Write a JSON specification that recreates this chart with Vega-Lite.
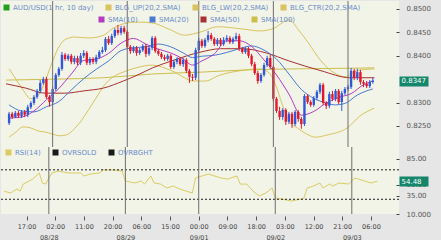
{
  "$schema": "https://vega.github.io/schema/vega-lite/v6.json",
  "padding": {"left": 0, "top": 0, "right": 11, "bottom": 0},
  "background": "#e6e6e6",
  "spacing": 0,
  "bounds": "flush",
  "resolve": {"scale": {"color": "independent"}, "legend": {"color": "independent"}},
  "config": {
    "font": "DejaVu Sans",
    "view": {"stroke": null, "fill": "#f2f4e8"},
    "legend": {"orient": "none", "direction": "horizontal", "title": null, "symbolType": "square", "symbolSize": 9, "symbolStrokeWidth": 3, "labelFont": "DejaVu Sans", "labelFontSize": 7, "labelColor": "#6a8cc8", "columnPadding": 7, "labelOffset": 3, "padding": 0, "offset": 0}
  },
  "datasets": {
    "candles": [
      {"t":-14,"o":0.8256,"h":0.8280,"l":0.8252,"c":0.8276},{"t":-13,"o":0.8276,"h":0.8280,"l":0.8265,"c":0.8269},
      {"t":-12,"o":0.8269,"h":0.8282,"l":0.8267,"c":0.8278},{"t":-11,"o":0.8278,"h":0.8282,"l":0.8267,"c":0.8271},
      {"t":-10,"o":0.8271,"h":0.8284,"l":0.8267,"c":0.8280},{"t":-9,"o":0.8280,"h":0.8284,"l":0.8269,"c":0.8274},
      {"t":-8,"o":0.8274,"h":0.8295,"l":0.8269,"c":0.8290},{"t":-7,"o":0.8290,"h":0.8303,"l":0.8286,"c":0.8299},
      {"t":-6,"o":0.8299,"h":0.8316,"l":0.8295,"c":0.8312},{"t":-5,"o":0.8312,"h":0.8329,"l":0.8308,"c":0.8325},
      {"t":-4,"o":0.8325,"h":0.8348,"l":0.8320,"c":0.8342},{"t":-3,"o":0.8342,"h":0.8355,"l":0.8338,"c":0.8350},
      {"t":-2,"o":0.8350,"h":0.8355,"l":0.8308,"c":0.8312},{"t":-1,"o":0.8312,"h":0.8316,"l":0.8291,"c":0.8301},
      {"t":0,"o":0.8301,"h":0.8333,"l":0.8297,"c":0.8329},{"t":1,"o":0.8329,"h":0.8363,"l":0.8325,"c":0.8359},
      {"t":2,"o":0.8359,"h":0.8376,"l":0.8355,"c":0.8372},{"t":3,"o":0.8372,"h":0.8408,"l":0.8368,"c":0.8402},
      {"t":4,"o":0.8402,"h":0.8406,"l":0.8389,"c":0.8393},{"t":5,"o":0.8393,"h":0.8404,"l":0.8389,"c":0.8400},
      {"t":6,"o":0.8400,"h":0.8404,"l":0.8382,"c":0.8387},{"t":7,"o":0.8387,"h":0.8400,"l":0.8382,"c":0.8395},
      {"t":8,"o":0.8395,"h":0.8400,"l":0.8380,"c":0.8385},{"t":9,"o":0.8385,"h":0.8406,"l":0.8380,"c":0.8400},
      {"t":10,"o":0.8400,"h":0.8412,"l":0.8395,"c":0.8406},{"t":11,"o":0.8406,"h":0.8410,"l":0.8380,"c":0.8385},
      {"t":12,"o":0.8385,"h":0.8397,"l":0.8380,"c":0.8393},{"t":13,"o":0.8393,"h":0.8397,"l":0.8382,"c":0.8387},
      {"t":14,"o":0.8387,"h":0.8402,"l":0.8382,"c":0.8397},{"t":15,"o":0.8397,"h":0.8412,"l":0.8393,"c":0.8408},
      {"t":16,"o":0.8408,"h":0.8419,"l":0.8404,"c":0.8412},{"t":17,"o":0.8412,"h":0.8440,"l":0.8408,"c":0.8436},
      {"t":18,"o":0.8436,"h":0.8442,"l":0.8423,"c":0.8427},{"t":19,"o":0.8427,"h":0.8447,"l":0.8423,"c":0.8442},
      {"t":20,"o":0.8442,"h":0.8459,"l":0.8438,"c":0.8455},{"t":21,"o":0.8455,"h":0.8466,"l":0.8444,"c":0.8449},
      {"t":22,"o":0.8449,"h":0.8464,"l":0.8444,"c":0.8459},{"t":23,"o":0.8459,"h":0.8464,"l":0.8447,"c":0.8451},
      {"t":24,"o":0.8451,"h":0.8455,"l":0.8415,"c":0.8419},{"t":25,"o":0.8419,"h":0.8423,"l":0.8404,"c":0.8410},
      {"t":26,"o":0.8410,"h":0.8421,"l":0.8406,"c":0.8417},{"t":27,"o":0.8417,"h":0.8421,"l":0.8400,"c":0.8406},
      {"t":28,"o":0.8406,"h":0.8417,"l":0.8402,"c":0.8412},{"t":29,"o":0.8412,"h":0.8425,"l":0.8408,"c":0.8421},
      {"t":30,"o":0.8421,"h":0.8425,"l":0.8397,"c":0.8404},{"t":31,"o":0.8404,"h":0.8421,"l":0.8400,"c":0.8417},
      {"t":32,"o":0.8417,"h":0.8442,"l":0.8412,"c":0.8438},{"t":33,"o":0.8438,"h":0.8442,"l":0.8406,"c":0.8410},
      {"t":34,"o":0.8410,"h":0.8415,"l":0.8400,"c":0.8404},{"t":35,"o":0.8404,"h":0.8408,"l":0.8393,"c":0.8397},
      {"t":36,"o":0.8397,"h":0.8402,"l":0.8389,"c":0.8393},{"t":37,"o":0.8393,"h":0.8404,"l":0.8389,"c":0.8400},
      {"t":38,"o":0.8400,"h":0.8404,"l":0.8372,"c":0.8376},{"t":39,"o":0.8376,"h":0.8391,"l":0.8372,"c":0.8387},
      {"t":40,"o":0.8387,"h":0.8397,"l":0.8382,"c":0.8393},{"t":41,"o":0.8393,"h":0.8397,"l":0.8378,"c":0.8382},
      {"t":42,"o":0.8382,"h":0.8395,"l":0.8376,"c":0.8391},{"t":43,"o":0.8391,"h":0.8395,"l":0.8363,"c":0.8368},
      {"t":44,"o":0.8368,"h":0.8372,"l":0.8342,"c":0.8355},{"t":45,"o":0.8355,"h":0.8361,"l":0.8346,"c":0.8353},
      {"t":46,"o":0.8353,"h":0.8417,"l":0.8348,"c":0.8412},{"t":47,"o":0.8412,"h":0.8438,"l":0.8408,"c":0.8432},
      {"t":48,"o":0.8432,"h":0.8436,"l":0.8417,"c":0.8421},{"t":49,"o":0.8421,"h":0.8438,"l":0.8417,"c":0.8434},
      {"t":50,"o":0.8434,"h":0.8453,"l":0.8429,"c":0.8444},{"t":51,"o":0.8444,"h":0.8449,"l":0.8432,"c":0.8436},
      {"t":52,"o":0.8436,"h":0.8440,"l":0.8421,"c":0.8425},{"t":53,"o":0.8425,"h":0.8438,"l":0.8421,"c":0.8434},
      {"t":54,"o":0.8434,"h":0.8438,"l":0.8421,"c":0.8425},{"t":55,"o":0.8425,"h":0.8440,"l":0.8421,"c":0.8434},
      {"t":56,"o":0.8434,"h":0.8444,"l":0.8429,"c":0.8438},{"t":57,"o":0.8438,"h":0.8442,"l":0.8425,"c":0.8429},
      {"t":58,"o":0.8429,"h":0.8440,"l":0.8425,"c":0.8436},{"t":59,"o":0.8436,"h":0.8449,"l":0.8432,"c":0.8442},
      {"t":60,"o":0.8442,"h":0.8447,"l":0.8410,"c":0.8415},{"t":61,"o":0.8415,"h":0.8419,"l":0.8404,"c":0.8408},
      {"t":62,"o":0.8408,"h":0.8419,"l":0.8404,"c":0.8415},{"t":63,"o":0.8415,"h":0.8419,"l":0.8395,"c":0.8400},
      {"t":64,"o":0.8400,"h":0.8404,"l":0.8378,"c":0.8382},{"t":65,"o":0.8382,"h":0.8387,"l":0.8359,"c":0.8363},
      {"t":66,"o":0.8363,"h":0.8368,"l":0.8340,"c":0.8346},{"t":67,"o":0.8346,"h":0.8363,"l":0.8342,"c":0.8359},
      {"t":68,"o":0.8359,"h":0.8385,"l":0.8355,"c":0.8380},{"t":69,"o":0.8380,"h":0.8400,"l":0.8376,"c":0.8395},
      {"t":70,"o":0.8395,"h":0.8402,"l":0.8372,"c":0.8376},{"t":71,"o":0.8376,"h":0.8380,"l":0.8303,"c":0.8308},
      {"t":72,"o":0.8308,"h":0.8312,"l":0.8278,"c":0.8282},{"t":73,"o":0.8282,"h":0.8291,"l":0.8263,"c":0.8269},
      {"t":74,"o":0.8269,"h":0.8288,"l":0.8263,"c":0.8284},{"t":75,"o":0.8284,"h":0.8288,"l":0.8252,"c":0.8259},
      {"t":76,"o":0.8259,"h":0.8280,"l":0.8254,"c":0.8276},{"t":77,"o":0.8276,"h":0.8280,"l":0.8246,"c":0.8254},
      {"t":78,"o":0.8254,"h":0.8284,"l":0.8250,"c":0.8280},{"t":79,"o":0.8280,"h":0.8284,"l":0.8259,"c":0.8265},
      {"t":80,"o":0.8265,"h":0.8269,"l":0.8244,"c":0.8254},{"t":81,"o":0.8254,"h":0.8318,"l":0.8250,"c":0.8314},
      {"t":82,"o":0.8314,"h":0.8318,"l":0.8297,"c":0.8301},{"t":83,"o":0.8301,"h":0.8305,"l":0.8291,"c":0.8295},
      {"t":84,"o":0.8295,"h":0.8314,"l":0.8291,"c":0.8310},{"t":85,"o":0.8310,"h":0.8327,"l":0.8305,"c":0.8323},
      {"t":86,"o":0.8323,"h":0.8342,"l":0.8318,"c":0.8338},{"t":87,"o":0.8338,"h":0.8342,"l":0.8295,"c":0.8299},
      {"t":88,"o":0.8299,"h":0.8303,"l":0.8286,"c":0.8293},{"t":89,"o":0.8293,"h":0.8323,"l":0.8288,"c":0.8318},
      {"t":90,"o":0.8318,"h":0.8325,"l":0.8303,"c":0.8308},{"t":91,"o":0.8308,"h":0.8329,"l":0.8303,"c":0.8325},
      {"t":92,"o":0.8325,"h":0.8329,"l":0.8297,"c":0.8301},{"t":93,"o":0.8301,"h":0.8325,"l":0.8282,"c":0.8320},
      {"t":94,"o":0.8320,"h":0.8333,"l":0.8316,"c":0.8329},{"t":95,"o":0.8329,"h":0.8338,"l":0.8325,"c":0.8333},
      {"t":96,"o":0.8333,"h":0.8374,"l":0.8329,"c":0.8368},{"t":97,"o":0.8368,"h":0.8372,"l":0.8348,"c":0.8353},
      {"t":98,"o":0.8353,"h":0.8372,"l":0.8348,"c":0.8365},{"t":99,"o":0.8365,"h":0.8370,"l":0.8338,"c":0.8344},
      {"t":100,"o":0.8344,"h":0.8348,"l":0.8333,"c":0.8340},{"t":101,"o":0.8340,"h":0.8346,"l":0.8331,"c":0.8335},
      {"t":102,"o":0.8335,"h":0.8348,"l":0.8331,"c":0.8344},{"t":103,"o":0.8344,"h":0.8353,"l":0.8340,"c":0.8347}
    ],
    "bb": [
      {"s":"BLG_UP(20,2,SMA)","t":-14,"v":0.8372},{"s":"BLG_UP(20,2,SMA)","t":-11.8,"v":0.8350},{"s":"BLG_UP(20,2,SMA)","t":-9.3,"v":0.8325},
      {"s":"BLG_UP(20,2,SMA)","t":-7.1,"v":0.8308},{"s":"BLG_UP(20,2,SMA)","t":-4.6,"v":0.8316},{"s":"BLG_UP(20,2,SMA)","t":-2.4,"v":0.8346},
      {"s":"BLG_UP(20,2,SMA)","t":-0.2,"v":0.8385},{"s":"BLG_UP(20,2,SMA)","t":1.7,"v":0.8415},{"s":"BLG_UP(20,2,SMA)","t":3.9,"v":0.8434},
      {"s":"BLG_UP(20,2,SMA)","t":7,"v":0.8440},{"s":"BLG_UP(20,2,SMA)","t":11.7,"v":0.8438},{"s":"BLG_UP(20,2,SMA)","t":16.4,"v":0.8444},
      {"s":"BLG_UP(20,2,SMA)","t":19.5,"v":0.8459},{"s":"BLG_UP(20,2,SMA)","t":22.7,"v":0.8468},{"s":"BLG_UP(20,2,SMA)","t":27.4,"v":0.8472},
      {"s":"BLG_UP(20,2,SMA)","t":32.1,"v":0.8470},{"s":"BLG_UP(20,2,SMA)","t":37.4,"v":0.8457},{"s":"BLG_UP(20,2,SMA)","t":42.4,"v":0.8444},
      {"s":"BLG_UP(20,2,SMA)","t":47.7,"v":0.8451},{"s":"BLG_UP(20,2,SMA)","t":53.1,"v":0.8462},{"s":"BLG_UP(20,2,SMA)","t":61.2,"v":0.8457},
      {"s":"BLG_UP(20,2,SMA)","t":66.6,"v":0.8453},{"s":"BLG_UP(20,2,SMA)","t":71.3,"v":0.8459},{"s":"BLG_UP(20,2,SMA)","t":73.8,"v":0.8470},
      {"s":"BLG_UP(20,2,SMA)","t":76,"v":0.8477},{"s":"BLG_UP(20,2,SMA)","t":79.1,"v":0.8455},{"s":"BLG_UP(20,2,SMA)","t":82.2,"v":0.8428},
      {"s":"BLG_UP(20,2,SMA)","t":86.3,"v":0.8389},{"s":"BLG_UP(20,2,SMA)","t":90.7,"v":0.8363},{"s":"BLG_UP(20,2,SMA)","t":94.1,"v":0.8355},
      {"s":"BLG_UP(20,2,SMA)","t":97.9,"v":0.8368},{"s":"BLG_UP(20,2,SMA)","t":103.5,"v":0.8372},
      {"s":"BLG_LW(20,2,SMA)","t":-14,"v":0.8226},{"s":"BLG_LW(20,2,SMA)","t":-11.8,"v":0.8237},{"s":"BLG_LW(20,2,SMA)","t":-9.6,"v":0.8248},
      {"s":"BLG_LW(20,2,SMA)","t":-7.1,"v":0.8246},{"s":"BLG_LW(20,2,SMA)","t":-4.6,"v":0.8239},{"s":"BLG_LW(20,2,SMA)","t":-2.4,"v":0.8237},
      {"s":"BLG_LW(20,2,SMA)","t":-0.2,"v":0.8233},{"s":"BLG_LW(20,2,SMA)","t":2.3,"v":0.8229},{"s":"BLG_LW(20,2,SMA)","t":4.5,"v":0.8231},
      {"s":"BLG_LW(20,2,SMA)","t":7,"v":0.8244},{"s":"BLG_LW(20,2,SMA)","t":9.2,"v":0.8261},{"s":"BLG_LW(20,2,SMA)","t":11.7,"v":0.8286},
      {"s":"BLG_LW(20,2,SMA)","t":14.2,"v":0.8312},{"s":"BLG_LW(20,2,SMA)","t":16.4,"v":0.8335},{"s":"BLG_LW(20,2,SMA)","t":19.5,"v":0.8355},
      {"s":"BLG_LW(20,2,SMA)","t":22.7,"v":0.8365},{"s":"BLG_LW(20,2,SMA)","t":26.7,"v":0.8374},{"s":"BLG_LW(20,2,SMA)","t":32.1,"v":0.8380},
      {"s":"BLG_LW(20,2,SMA)","t":38.3,"v":0.8368},{"s":"BLG_LW(20,2,SMA)","t":45.5,"v":0.8346},{"s":"BLG_LW(20,2,SMA)","t":49.3,"v":0.8346},
      {"s":"BLG_LW(20,2,SMA)","t":53.1,"v":0.8357},{"s":"BLG_LW(20,2,SMA)","t":60.3,"v":0.8368},{"s":"BLG_LW(20,2,SMA)","t":66.6,"v":0.8372},
      {"s":"BLG_LW(20,2,SMA)","t":69.7,"v":0.8363},{"s":"BLG_LW(20,2,SMA)","t":71.9,"v":0.8335},{"s":"BLG_LW(20,2,SMA)","t":73.8,"v":0.8297},
      {"s":"BLG_LW(20,2,SMA)","t":76,"v":0.8261},{"s":"BLG_LW(20,2,SMA)","t":79.1,"v":0.8244},{"s":"BLG_LW(20,2,SMA)","t":82.2,"v":0.8231},
      {"s":"BLG_LW(20,2,SMA)","t":84.4,"v":0.8226},{"s":"BLG_LW(20,2,SMA)","t":88.5,"v":0.8231},{"s":"BLG_LW(20,2,SMA)","t":94.8,"v":0.8246},
      {"s":"BLG_LW(20,2,SMA)","t":98.8,"v":0.8271},{"s":"BLG_LW(20,2,SMA)","t":103.5,"v":0.8288}
    ],
    "sma": [
      {"s":"SMA(100)","t":-15,"v":0.8348},{"s":"SMA(100)","t":0.7,"v":0.8350},{"s":"SMA(100)","t":16.4,"v":0.8353},{"s":"SMA(100)","t":32.1,"v":0.8361},
      {"s":"SMA(100)","t":47.7,"v":0.8365},{"s":"SMA(100)","t":63.4,"v":0.8370},{"s":"SMA(100)","t":79.1,"v":0.8372},{"s":"SMA(100)","t":103.5,"v":0.8374},
      {"s":"SMA(50)","t":-15,"v":0.8340},{"s":"SMA(50)","t":-8.7,"v":0.8331},{"s":"SMA(50)","t":-2.4,"v":0.8320},{"s":"SMA(50)","t":3.9,"v":0.8320},
      {"s":"SMA(50)","t":10.1,"v":0.8325},{"s":"SMA(50)","t":16.4,"v":0.8331},{"s":"SMA(50)","t":22.7,"v":0.8346},{"s":"SMA(50)","t":27.4,"v":0.8359},
      {"s":"SMA(50)","t":32.1,"v":0.8374},{"s":"SMA(50)","t":38.3,"v":0.8389},{"s":"SMA(50)","t":47.7,"v":0.8408},{"s":"SMA(50)","t":54,"v":0.8415},
      {"s":"SMA(50)","t":61.2,"v":0.8415},{"s":"SMA(50)","t":68.7,"v":0.8406},{"s":"SMA(50)","t":76,"v":0.8389},{"s":"SMA(50)","t":86.3,"v":0.8368},
      {"s":"SMA(50)","t":95.7,"v":0.8353},{"s":"SMA(50)","t":103.5,"v":0.8353},
      {"s":"SMA(20)","t":-14,"v":0.8295},{"s":"SMA(20)","t":-10,"v":0.8282},{"s":"SMA(20)","t":-6,"v":0.8280},{"s":"SMA(20)","t":-2,"v":0.8291},
      {"s":"SMA(20)","t":2,"v":0.8302},{"s":"SMA(20)","t":6,"v":0.8327},{"s":"SMA(20)","t":10,"v":0.8351},{"s":"SMA(20)","t":14,"v":0.8371},
      {"s":"SMA(20)","t":18,"v":0.8389},{"s":"SMA(20)","t":22,"v":0.8411},{"s":"SMA(20)","t":26,"v":0.8417},{"s":"SMA(20)","t":30,"v":0.8419},
      {"s":"SMA(20)","t":34,"v":0.8425},{"s":"SMA(20)","t":38,"v":0.8419},{"s":"SMA(20)","t":42,"v":0.8406},{"s":"SMA(20)","t":45,"v":0.8396},
      {"s":"SMA(20)","t":48,"v":0.8399},{"s":"SMA(20)","t":52,"v":0.8401},{"s":"SMA(20)","t":56,"v":0.8407},{"s":"SMA(20)","t":60,"v":0.8415},
      {"s":"SMA(20)","t":64,"v":0.8421},{"s":"SMA(20)","t":68,"v":0.8412},{"s":"SMA(20)","t":72,"v":0.8393},{"s":"SMA(20)","t":76,"v":0.8361},
      {"s":"SMA(20)","t":80,"v":0.8328},{"s":"SMA(20)","t":84,"v":0.8309},{"s":"SMA(20)","t":88,"v":0.8299},{"s":"SMA(20)","t":91,"v":0.8295},
      {"s":"SMA(20)","t":94,"v":0.8298},{"s":"SMA(20)","t":98,"v":0.8316},{"s":"SMA(20)","t":101,"v":0.8325},{"s":"SMA(20)","t":103,"v":0.8329},
      {"s":"SMA(10)","t":-14,"v":0.8267},{"s":"SMA(10)","t":-10,"v":0.8269},{"s":"SMA(10)","t":-6,"v":0.8282},{"s":"SMA(10)","t":-2,"v":0.8306},
      {"s":"SMA(10)","t":2,"v":0.8330},{"s":"SMA(10)","t":6,"v":0.8361},{"s":"SMA(10)","t":10,"v":0.8390},{"s":"SMA(10)","t":14,"v":0.8393},
      {"s":"SMA(10)","t":18,"v":0.8405},{"s":"SMA(10)","t":22,"v":0.8427},{"s":"SMA(10)","t":26,"v":0.8437},{"s":"SMA(10)","t":30,"v":0.8425},
      {"s":"SMA(10)","t":34,"v":0.8414},{"s":"SMA(10)","t":38,"v":0.8406},{"s":"SMA(10)","t":42,"v":0.8393},{"s":"SMA(10)","t":45,"v":0.8380},
      {"s":"SMA(10)","t":48,"v":0.8389},{"s":"SMA(10)","t":52,"v":0.8404},{"s":"SMA(10)","t":56,"v":0.8432},{"s":"SMA(10)","t":60,"v":0.8432},
      {"s":"SMA(10)","t":64,"v":0.8420},{"s":"SMA(10)","t":68,"v":0.8391},{"s":"SMA(10)","t":72,"v":0.8359},{"s":"SMA(10)","t":76,"v":0.8318},
      {"s":"SMA(10)","t":80,"v":0.8273},{"s":"SMA(10)","t":84,"v":0.8281},{"s":"SMA(10)","t":88,"v":0.8299},{"s":"SMA(10)","t":92,"v":0.8311},
      {"s":"SMA(10)","t":96,"v":0.8319},{"s":"SMA(10)","t":100,"v":0.8338},{"s":"SMA(10)","t":103,"v":0.8346}
    ],
    "rsi": [
      {"s":"RSI(14)","t":-14,"v":41},{"s":"RSI(14)","t":-12,"v":38.5},{"s":"RSI(14)","t":-10,"v":44},{"s":"RSI(14)","t":-9,"v":41},
      {"s":"RSI(14)","t":-8,"v":50.7},{"s":"RSI(14)","t":-5,"v":57.5},{"s":"RSI(14)","t":-3,"v":65.7},{"s":"RSI(14)","t":-2,"v":52},
      {"s":"RSI(14)","t":-1,"v":50.7},{"s":"RSI(14)","t":0,"v":58.9},{"s":"RSI(14)","t":1,"v":65.7},{"s":"RSI(14)","t":3,"v":68.4},
      {"s":"RSI(14)","t":6,"v":65.7},{"s":"RSI(14)","t":10,"v":65.7},{"s":"RSI(14)","t":11,"v":61.6},{"s":"RSI(14)","t":13,"v":64.3},
      {"s":"RSI(14)","t":16,"v":65.7},{"s":"RSI(14)","t":17,"v":69.7},{"s":"RSI(14)","t":20,"v":69.7},{"s":"RSI(14)","t":23,"v":68.4},
      {"s":"RSI(14)","t":24,"v":54.8},{"s":"RSI(14)","t":27,"v":52.1},{"s":"RSI(14)","t":29,"v":54.8},{"s":"RSI(14)","t":30,"v":50.7},
      {"s":"RSI(14)","t":32,"v":61.6},{"s":"RSI(14)","t":33,"v":52.1},{"s":"RSI(14)","t":35,"v":50.7},{"s":"RSI(14)","t":37,"v":45.3},
      {"s":"RSI(14)","t":39,"v":48},{"s":"RSI(14)","t":41,"v":43.9},{"s":"RSI(14)","t":43,"v":41.2},{"s":"RSI(14)","t":45,"v":38.5},
      {"s":"RSI(14)","t":46,"v":58.9},{"s":"RSI(14)","t":48,"v":61.6},{"s":"RSI(14)","t":50,"v":64.3},{"s":"RSI(14)","t":54,"v":58.9},
      {"s":"RSI(14)","t":56,"v":57.5},{"s":"RSI(14)","t":59,"v":61.6},{"s":"RSI(14)","t":60,"v":50.7},{"s":"RSI(14)","t":62,"v":50.7},
      {"s":"RSI(14)","t":64,"v":41.2},{"s":"RSI(14)","t":66,"v":34.4},{"s":"RSI(14)","t":68,"v":38.5},{"s":"RSI(14)","t":70,"v":45.3},
      {"s":"RSI(14)","t":71,"v":31.7},{"s":"RSI(14)","t":73,"v":30.3},{"s":"RSI(14)","t":76,"v":27.6},{"s":"RSI(14)","t":79,"v":30.3},
      {"s":"RSI(14)","t":80,"v":31.7},{"s":"RSI(14)","t":81,"v":45.3},{"s":"RSI(14)","t":83,"v":48},{"s":"RSI(14)","t":85,"v":52.1},
      {"s":"RSI(14)","t":86,"v":45.3},{"s":"RSI(14)","t":88,"v":50.7},{"s":"RSI(14)","t":89,"v":48},{"s":"RSI(14)","t":91,"v":52.1},
      {"s":"RSI(14)","t":94,"v":50.7},{"s":"RSI(14)","t":96,"v":58.9},{"s":"RSI(14)","t":97,"v":57.5},{"s":"RSI(14)","t":99,"v":54.8},
      {"s":"RSI(14)","t":101,"v":52.1},{"s":"RSI(14)","t":103,"v":54.48}
    ],
    "levels": [{"s":"OVRSOLD","v":30},{"s":"OVRBGHT","v":70}],
    "days": [{"t":0},{"t":24},{"t":47},{"t":71},{"t":95}]
  },
  "vconcat": [
    {
      "width": 398,
      "height": 146,
      "layer": [
        {
          "data": {"name": "bb"},
          "mark": {"type": "line", "strokeWidth": 1, "interpolate": "monotone"},
          "encoding": {
            "x": {"field": "t", "type": "quantitative", "scale": {"domain": [-15, 109.8], "nice": false, "zero": false}, "axis": null},
            "y": {"field": "v", "type": "quantitative", "scale": {"domain": [0.8205, 0.8517], "nice": false, "zero": false}, "axis": null},
            "color": {"field": "s", "type": "nominal",
              "scale": {"domain": ["AUD/USD(1 hr, 10 day)", "BLG_UP(20,2,SMA)", "BLG_LW(20,2,SMA)", "BLG_CTR(20,2,SMA)"], "range": ["#1fa01f", "#d9c35c", "#d9c35c", "#d9c35c"]},
              "legend": {"legendX": 2, "legendY": 3}}
          }
        },
        {
          "data": {"name": "sma"},
          "mark": {"type": "line", "strokeWidth": 1, "interpolate": "monotone"},
          "encoding": {
            "x": {"field": "t", "type": "quantitative", "axis": null},
            "y": {"field": "v", "type": "quantitative",
              "axis": {"orient": "right", "values": [0.8347], "format": ".4f", "domain": false, "grid": false, "tickSize": 29, "tickWidth": 10, "tickColor": "#14876a", "labelColor": "#ffffff", "labelPadding": -27, "labelFontSize": 7, "labelFont": "DejaVu Sans", "title": null, "zindex": 2}},
            "stroke": {"field": "s", "type": "nominal",
              "scale": {"domain": ["SMA(10)", "SMA(20)", "SMA(50)", "SMA(100)"], "range": ["#b43cc4", "#4a7ad0", "#a83030", "#cdbf4c"]},
              "legend": {"legendX": 97, "legendY": 15}}
          }
        },
        {
          "data": {"name": "candles"},
          "mark": {"type": "rule", "strokeWidth": 1},
          "encoding": {
            "x": {"field": "t", "type": "quantitative", "axis": null},
            "y": {"field": "l", "type": "quantitative",
              "axis": {"orient": "right", "values": [0.825, 0.83, 0.84, 0.845, 0.85], "format": ".4f", "domain": false, "grid": false, "tickSize": 3, "tickColor": "#444444", "offset": -3, "labelPadding": 7, "labelFont": "DejaVu Sans", "labelFontSize": 7, "labelColor": "#555555", "title": null}},
            "y2": {"field": "h"},
            "color": {"condition": {"test": "datum.c >= datum.o", "value": "#3158d6"}, "value": "#e3182b"}
          }
        },
        {
          "data": {"name": "candles"},
          "mark": {"type": "bar", "size": 2.4},
          "encoding": {
            "x": {"field": "t", "type": "quantitative", "axis": null},
            "y": {"field": "o", "type": "quantitative", "axis": null},
            "y2": {"field": "c"},
            "color": {"condition": {"test": "datum.c >= datum.o", "value": "#3158d6"}, "value": "#e3182b"}
          }
        },
        {
          "data": {"name": "days"},
          "mark": {"type": "rule", "color": "#6e6e6e", "strokeWidth": 1},
          "encoding": {"x": {"field": "t", "type": "quantitative", "axis": null}}
        }
      ],
      "resolve": {"axis": {"y": "independent"}}
    },
    {
      "width": 398,
      "height": 67,
      "layer": [
        {
          "data": {"name": "rsi"},
          "mark": {"type": "line", "strokeWidth": 1},
          "encoding": {
            "x": {"field": "t", "type": "quantitative", "scale": {"domain": [-15, 109.8], "nice": false, "zero": false},
              "axis": {"orient": "bottom", "values": [-7, 2, 11, 20, 29, 38, 47, 56, 65, 74, 83, 92, 101], "labelExpr": "['17:00','02:00','11:00','20:00','06:00','15:00','00:00','09:00','18:00','03:00','12:00','21:00','06:00'][(datum.value+7)/9]", "domain": false, "grid": false, "tickSize": 4, "tickColor": "#555555", "offset": 2, "labelPadding": 3, "labelFont": "DejaVu Sans", "labelFontSize": 6.5, "labelColor": "#444444", "labelOverlap": false, "labelFlush": false, "title": null}},
            "y": {"field": "v", "type": "quantitative", "scale": {"domain": [10, 101], "nice": false, "zero": false},
              "axis": {"orient": "right", "values": [10, 35, 50, 85], "labelExpr": "datum.value == 10 ? '10.000' : format(datum.value, '.2f')", "domain": false, "grid": false, "tickSize": 3, "tickColor": "#444444", "offset": -3, "labelPadding": 7, "labelFont": "DejaVu Sans", "labelFontSize": 7, "labelColor": "#555555", "title": null}},
            "color": {"field": "s", "type": "nominal",
              "scale": {"domain": ["RSI(14)", "OVRSOLD", "OVRBGHT"], "range": ["#dccb62", "#1a1a1a", "#1a1a1a"]},
              "legend": {"legendX": 4, "legendY": 2}}
          }
        },
        {
          "data": {"name": "levels"},
          "mark": {"type": "rule", "strokeDash": [2, 2], "strokeWidth": 1},
          "encoding": {
            "y": {"field": "v", "type": "quantitative",
              "axis": {"orient": "right", "values": [54.48], "format": ".2f", "domain": false, "grid": false, "tickSize": 29, "tickWidth": 10, "tickColor": "#14876a", "labelColor": "#ffffff", "labelPadding": -27, "labelFontSize": 7, "labelFont": "DejaVu Sans", "title": null, "zindex": 2}},
            "color": {"field": "s", "type": "nominal"}
          }
        },
        {
          "data": {"name": "days"},
          "mark": {"type": "rule", "color": "#6e6e6e", "strokeWidth": 1},
          "encoding": {
            "x": {"field": "t", "type": "quantitative",
              "axis": {"orient": "bottom", "values": [0, 24, 47, 71, 95], "labelExpr": "['08/28','08/29','09/01','09/02','09/03'][indexof([0,24,47,71,95], datum.value)]", "domain": false, "grid": false, "ticks": false, "tickSize": 0, "offset": 2, "labelPadding": 18, "labelFont": "DejaVu Sans", "labelFontSize": 6.5, "labelColor": "#444444", "labelOverlap": false, "labelFlush": false, "title": null}}
          }
        }
      ],
      "resolve": {"axis": {"x": "independent", "y": "independent"}}
    }
  ]
}
